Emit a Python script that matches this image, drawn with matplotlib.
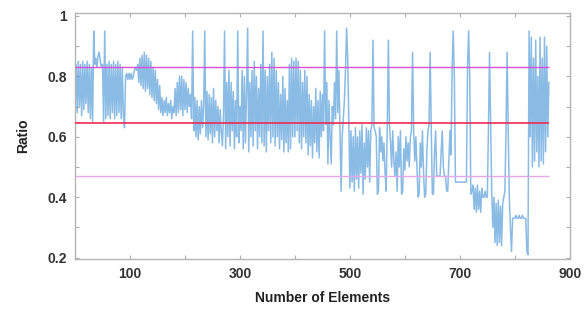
import numpy as np
import matplotlib
matplotlib.use("Agg")
import matplotlib.pyplot as plt
from matplotlib.ticker import FixedLocator, MultipleLocator

plt.rcParams["font.family"] = ["Liberation Sans", "DejaVu Sans"]

# ratio sampled every 2 elements, one list per 50 elements
ratio_000 = [0.72, 0.84, 0.68, 0.85, 0.70, 0.84, 0.67, 0.85, 0.69, 0.84, 0.71, 0.85, 0.68,
             0.84, 0.66, 0.83, 0.65, 0.95, 0.84, 0.86, 0.83, 0.87, 0.88, 0.85, 0.83]
ratio_050 = [0.84, 0.65, 0.95, 0.66, 0.84, 0.67, 0.85, 0.66, 0.84, 0.68, 0.85, 0.66, 0.84,
             0.67, 0.85, 0.68, 0.84, 0.66, 0.83, 0.67, 0.63, 0.80, 0.81, 0.79, 0.81]
ratio_100 = [0.79, 0.81, 0.79, 0.80, 0.82, 0.83, 0.82, 0.84, 0.78, 0.86, 0.77, 0.87, 0.76,
             0.88, 0.75, 0.87, 0.76, 0.86, 0.74, 0.85, 0.73, 0.83, 0.72, 0.82, 0.71]
ratio_150 = [0.79, 0.69, 0.77, 0.68, 0.73, 0.67, 0.72, 0.68, 0.73, 0.67, 0.71, 0.68, 0.72,
             0.66, 0.70, 0.68, 0.76, 0.67, 0.78, 0.68, 0.80, 0.69, 0.80, 0.67, 0.79]
ratio_200 = [0.69, 0.78, 0.68, 0.76, 0.70, 0.74, 0.66, 0.95, 0.62, 0.73, 0.60, 0.72, 0.59,
             0.70, 0.61, 0.72, 0.63, 0.70, 0.95, 0.60, 0.75, 0.59, 0.74, 0.61, 0.73]
ratio_250 = [0.58, 0.76, 0.60, 0.72, 0.62, 0.70, 0.58, 0.69, 0.62, 0.57, 0.66, 0.95, 0.56,
             0.78, 0.60, 0.82, 0.57, 0.78, 0.62, 0.75, 0.56, 0.72, 0.60, 0.95, 0.58]
ratio_300 = [0.70, 0.62, 0.82, 0.56, 0.80, 0.58, 0.75, 0.96, 0.55, 0.78, 0.60, 0.82, 0.57,
             0.85, 0.62, 0.80, 0.56, 0.76, 0.60, 0.84, 0.58, 0.95, 0.57, 0.82, 0.55]
ratio_350 = [0.80, 0.62, 0.84, 0.58, 0.88, 0.60, 0.86, 0.57, 0.82, 0.60, 0.78, 0.56, 0.74,
             0.59, 0.80, 0.55, 0.76, 0.58, 0.72, 0.55, 0.84, 0.56, 0.86, 0.60, 0.85]
ratio_400 = [0.60, 0.86, 0.62, 0.85, 0.58, 0.82, 0.56, 0.78, 0.60, 0.82, 0.58, 0.80, 0.54,
             0.74, 0.57, 0.72, 0.53, 0.70, 0.58, 0.76, 0.55, 0.72, 0.53, 0.75, 0.60]
ratio_450 = [0.74, 0.62, 0.95, 0.64, 0.78, 0.51, 0.72, 0.60, 0.51, 0.70, 0.64, 0.78, 0.66,
             0.95, 0.68, 0.82, 0.62, 0.42, 0.60, 0.66, 0.72, 0.82, 0.96, 0.86, 0.66]
ratio_500 = [0.43, 0.62, 0.45, 0.60, 0.42, 0.63, 0.46, 0.60, 0.43, 0.62, 0.48, 0.64, 0.41,
             0.58, 0.46, 0.63, 0.50, 0.62, 0.45, 0.62, 0.64, 0.92, 0.63, 0.62, 0.60]
ratio_550 = [0.41, 0.42, 0.63, 0.55, 0.60, 0.52, 0.58, 0.48, 0.42, 0.63, 0.92, 0.64, 0.58,
             0.50, 0.62, 0.52, 0.47, 0.55, 0.42, 0.60, 0.50, 0.62, 0.41, 0.42, 0.56]
ratio_600 = [0.49, 0.60, 0.52, 0.58, 0.50, 0.60, 0.62, 0.88, 0.62, 0.52, 0.60, 0.50, 0.40,
             0.41, 0.58, 0.50, 0.62, 0.48, 0.40, 0.41, 0.55, 0.62, 0.64, 0.88, 0.63]
ratio_650 = [0.41, 0.41, 0.55, 0.62, 0.47, 0.47, 0.47, 0.47, 0.55, 0.62, 0.50, 0.47, 0.47,
             0.42, 0.42, 0.52, 0.62, 0.54, 0.83, 0.95, 0.80, 0.45, 0.45, 0.45, 0.45]
ratio_700 = [0.45, 0.45, 0.45, 0.45, 0.45, 0.45, 0.45, 0.83, 0.95, 0.80, 0.41, 0.42, 0.44,
             0.36, 0.43, 0.35, 0.44, 0.36, 0.42, 0.35, 0.43, 0.40, 0.40, 0.42, 0.40]
ratio_750 = [0.40, 0.62, 0.88, 0.65, 0.42, 0.30, 0.40, 0.25, 0.38, 0.24, 0.39, 0.25, 0.37,
             0.24, 0.38, 0.40, 0.42, 0.62, 0.88, 0.62, 0.40, 0.30, 0.22, 0.33, 0.33]
ratio_800 = [0.33, 0.34, 0.33, 0.33, 0.34, 0.33, 0.33, 0.34, 0.33, 0.33, 0.33, 0.22, 0.21,
             0.95, 0.60, 0.93, 0.50, 0.86, 0.52, 0.92, 0.55, 0.80, 0.50, 0.93, 0.52]
ratio_850 = [0.86, 0.51, 0.93, 0.55, 0.90, 0.60, 0.78]

ratio = np.array(ratio_000 + ratio_050 + ratio_100 + ratio_150 + ratio_200 + ratio_250
                 + ratio_300 + ratio_350 + ratio_400 + ratio_450 + ratio_500 + ratio_550
                 + ratio_600 + ratio_650 + ratio_700 + ratio_750 + ratio_800 + ratio_850)
elements = np.arange(len(ratio)) * 2

# reference levels
upper_level = 0.83
mean_level = 0.645
lower_level = 0.47

x_ticks = [100, 300, 500, 700, 900]
y_ticks = [0.2, 0.4, 0.6, 0.8, 1.0]
y_labels = ["0.2", "0.4", "0.6", "0.8", "1"]

fig = plt.figure(figsize=(5.88, 3.16), dpi=100)
ax = fig.add_axes([0.1276, 0.180, 0.8414, 0.779])

ax.plot(elements, ratio, color="#3d8ed3", lw=1.1, alpha=0.6, zorder=2)

x_end = elements[-1]
ax.hlines(upper_level, 0, x_end, color="#d94fd9", lw=1.0, zorder=3)
ax.hlines(mean_level, 0, x_end, color="#ee2a55", lw=1.2, zorder=3)
ax.hlines(lower_level, 0, x_end, color="#e3a8ea", lw=1.0, zorder=3)

ax.set_xlim(0, 900)
ax.set_ylim(0.195, 1.01)

ax.xaxis.set_major_locator(FixedLocator(x_ticks))
ax.xaxis.set_minor_locator(MultipleLocator(100))
ax.set_yticks(y_ticks)
ax.set_yticklabels(y_labels)
ax.yaxis.set_minor_locator(MultipleLocator(0.1))

ax.tick_params(which="both", direction="in", top=True, right=True,
               color="#b0b0b0", length=3, width=0.8)
ax.tick_params(which="major", labelsize=10, labelcolor="#333333", pad=6)
for lab in ax.get_xticklabels() + ax.get_yticklabels():
    lab.set_fontweight("bold")

for sp in ax.spines.values():
    sp.set_color("#b5b5b5")
    sp.set_linewidth(1.0)

ax.set_xlabel("Number of Elements", fontsize=10, fontweight="bold",
              color="#222222", labelpad=7)
ax.set_ylabel("Ratio", fontsize=10, fontweight="bold", color="#222222",
              labelpad=12)

fig.savefig("out.png", dpi=100)
